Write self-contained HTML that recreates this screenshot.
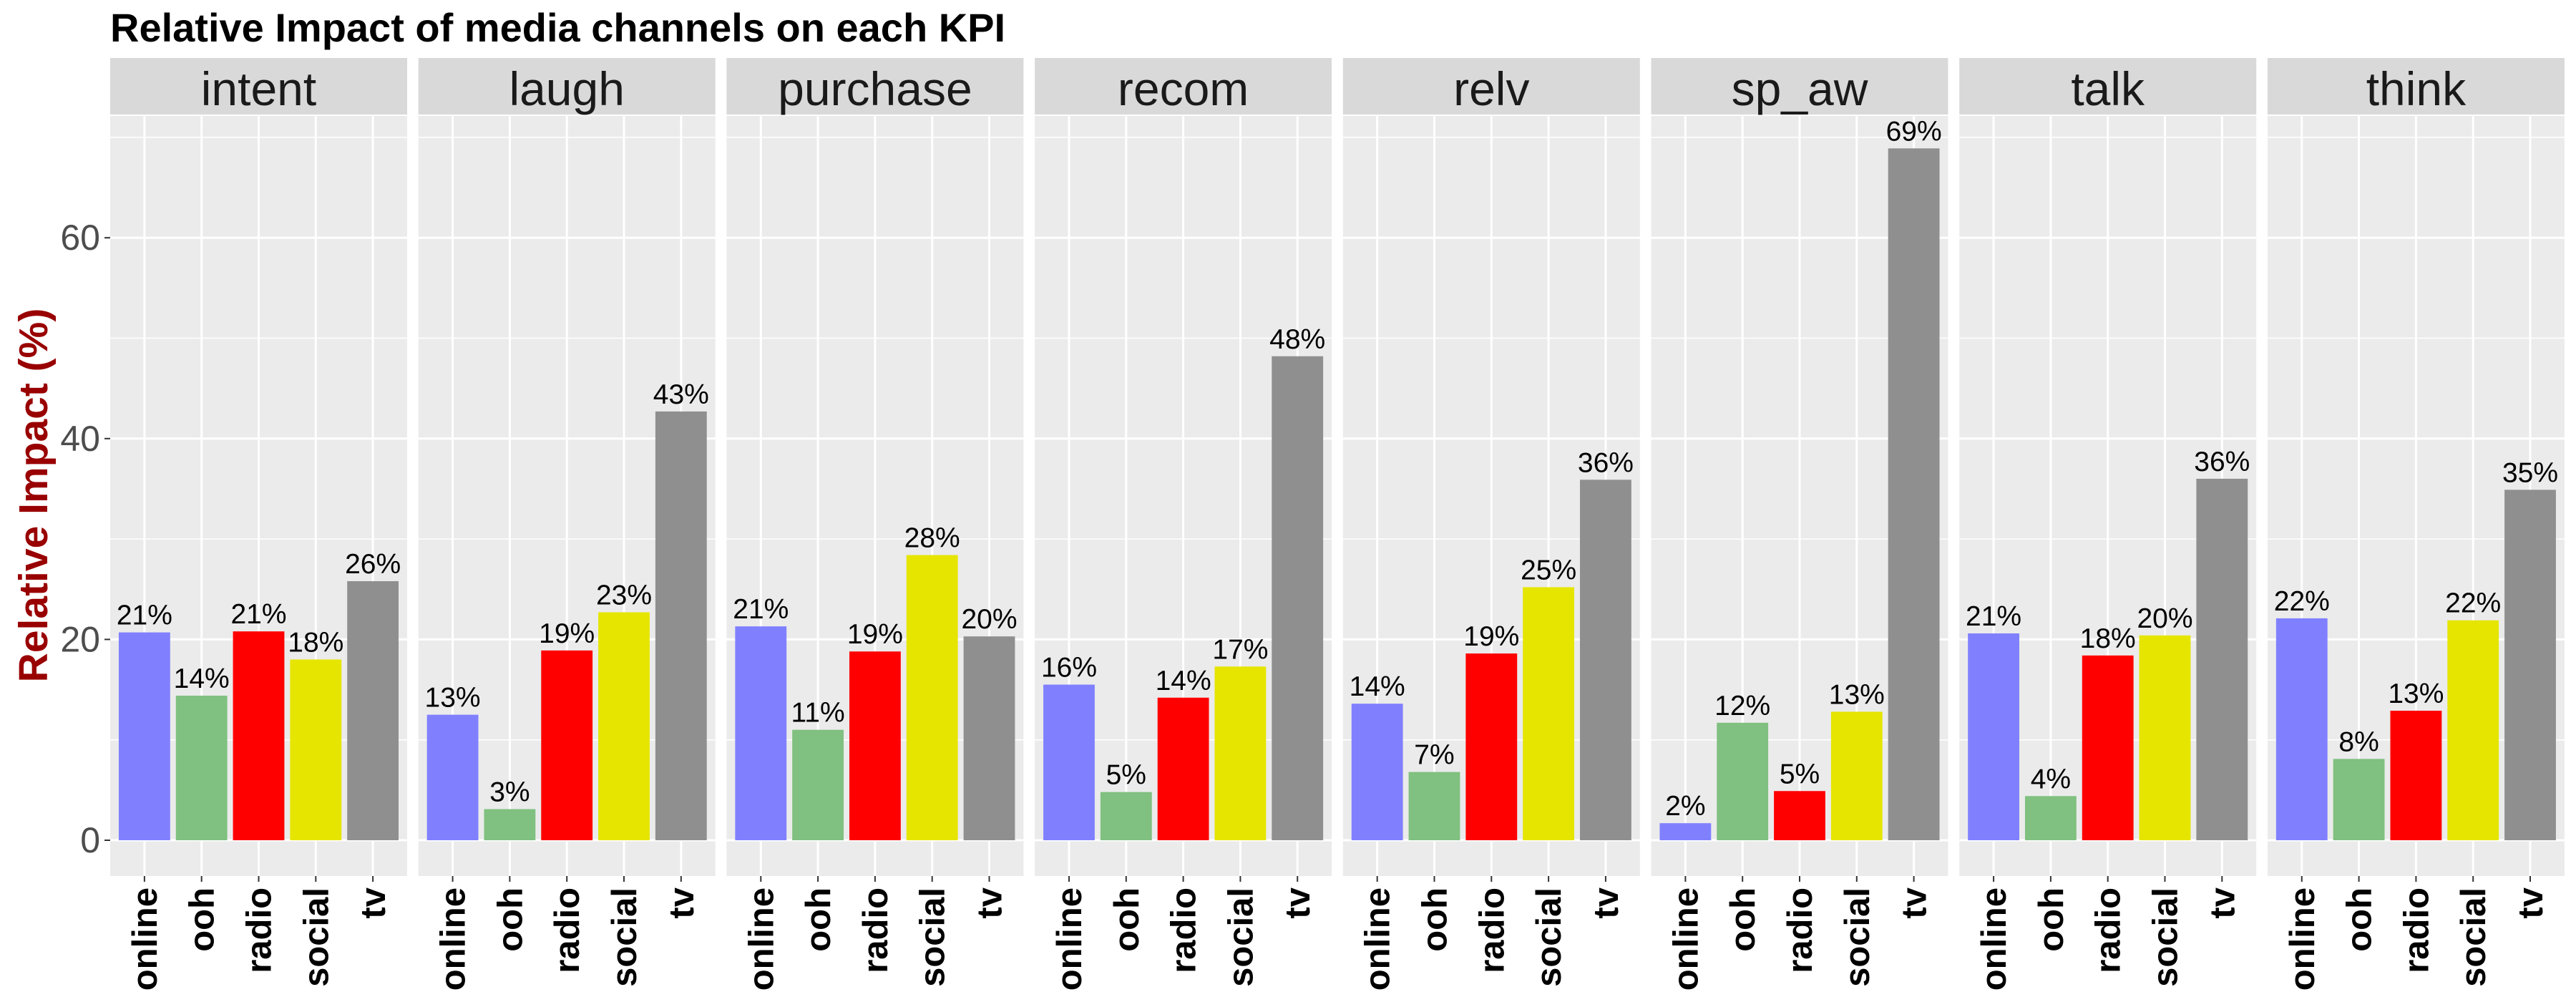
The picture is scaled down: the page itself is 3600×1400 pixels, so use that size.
<!DOCTYPE html>
<html><head><meta charset="utf-8"><style>
html,body{margin:0;padding:0;background:#fff;}
svg{display:block;font-family:"Liberation Sans",sans-serif;}
</style></head><body>
<svg id="chart" width="3600" height="1400" viewBox="0 0 3600 1400">
<text x="154" y="58" font-size="56" font-weight="bold" fill="#000">Relative Impact of media channels on each KPI</text>
<text transform="translate(66,692) rotate(-90)" text-anchor="middle" font-size="57" font-weight="bold" fill="#990000">Relative Impact (%)</text>
<g id="panels"></g>
</svg>
<script>
const kpis = ["intent","laugh","purchase","recom","relv","sp_aw","talk","think"];
const channels = ["online","ooh","radio","social","tv"];
const colors = ["#8080ff","#80c080","#ff0000","#e5e500","#8f8f8f"];
const onlineVals = [20.7,12.5,21.3,15.5,13.6,1.7,20.6,22.1];
const oohVals = [14.4,3.1,11.0,4.8,6.8,11.7,4.4,8.1];
const radioVals = [20.8,18.9,18.8,14.2,18.6,4.9,18.4,12.9];
const socialVals = [18.0,22.7,28.4,17.3,25.2,12.8,20.4,21.9];
const tvVals = [25.8,42.7,20.3,48.2,35.9,68.9,36.0,34.9];
const yTicks = [0,20,40,60];
const yMinor = [10,30,50,70];

const NS = "http://www.w3.org/2000/svg";
const svg = document.getElementById("chart");
const g = document.getElementById("panels");
const series = [onlineVals,oohVals,radioVals,socialVals,tvVals];
const panelLeft0 = 154, panelStep = 430.7, panelW = 415;
const stripTop = 81, stripBot = 160, panelTop = 162, panelBot = 1224;
const y0 = 1174, perUnit = 14.03;
function yScale(v){ return y0 - v*perUnit; }
function xScale(p, i){ const L = panelLeft0 + p*panelStep; return L + (i + 1 - 0.4) * panelW / 5.2; }
function mk(tag, attrs){ const e = document.createElementNS(NS, tag); for (const k in attrs) e.setAttribute(k, attrs[k]); return e; }

yTicks.forEach(t => {
  const tx = mk("text",{x:140,y:yScale(t)+17,"text-anchor":"end","font-size":50,fill:"#4d4d4d"});
  tx.textContent = t;
  
  
  svg.appendChild(tx);
  const tk = mk("line",{x1:146,x2:154,y1:yScale(t),y2:yScale(t),stroke:"#333","stroke-width":2});
  
  
  svg.appendChild(tk);
});

kpis.forEach((k, p) => {
  const L = panelLeft0 + p*panelStep;
  const pg = mk("g",{});
  
  
  g.appendChild(pg);
  const strip = mk("rect",{x:L,y:stripTop,width:panelW,height:stripBot-stripTop,fill:"#d9d9d9"});
  
  
  pg.appendChild(strip);
  const st = mk("text",{x:L+panelW/2,y:147,"text-anchor":"middle","font-size":66,fill:"#1a1a1a"});
  st.textContent = k;
  
  
  pg.appendChild(st);
  const bg = mk("rect",{x:L,y:panelTop,width:panelW,height:panelBot-panelTop,fill:"#ebebeb"});
  
  
  pg.appendChild(bg);
  yMinor.forEach(t => {
    const ln = mk("line",{x1:L,x2:L+panelW,y1:yScale(t),y2:yScale(t),stroke:"#fff","stroke-width":1.5});
    
    
    pg.appendChild(ln);
  });
  yTicks.forEach(t => {
    const ln = mk("line",{x1:L,x2:L+panelW,y1:yScale(t),y2:yScale(t),stroke:"#fff","stroke-width":3});
    
    
    pg.appendChild(ln);
  });
  channels.forEach((c, i) => {
    const cx = xScale(p, i);
    const vl = mk("line",{x1:cx,x2:cx,y1:panelTop,y2:panelBot,stroke:"#fff","stroke-width":3});
    
    
    pg.appendChild(vl);
  });
  channels.forEach((c, i) => {
    const cx = xScale(p, i);
    const v = series[i][p];
    const bw = 0.9 * panelW / 5.2;
    const bar = mk("rect",{x:cx-bw/2,y:yScale(v),width:bw,height:yScale(0)-yScale(v),fill:colors[i]});
    
    
    pg.appendChild(bar);
    const lb = mk("text",{x:cx,y:yScale(v)-11,"text-anchor":"middle","font-size":39,fill:"#000"});
    lb.textContent = Math.round(v) + "%";
    
    
    pg.appendChild(lb);
    const tk = mk("line",{x1:cx,x2:cx,y1:panelBot,y2:panelBot+8,stroke:"#333","stroke-width":2});
    
    
    pg.appendChild(tk);
    const xl = mk("text",{transform:"translate("+(cx+17)+","+1240+") rotate(-90)","text-anchor":"end","font-size":49,"font-weight":"bold",fill:"#000"});
    xl.textContent = c;
    
    
    pg.appendChild(xl);
  });
});
</script>
</body></html>
